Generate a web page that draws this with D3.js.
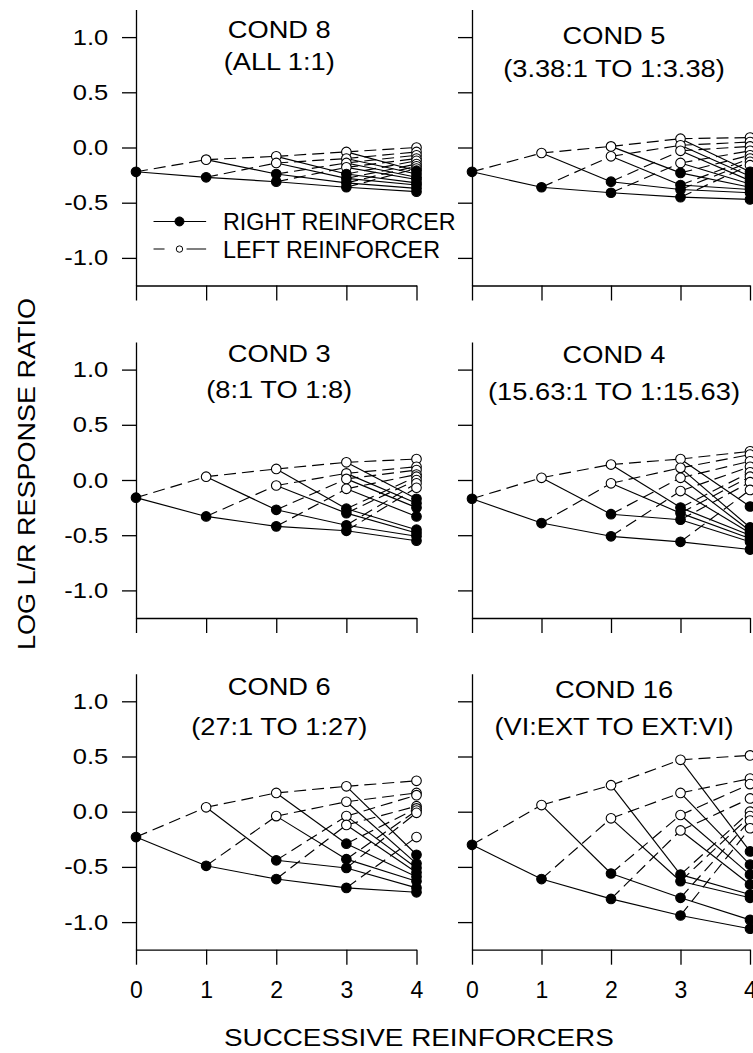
<!DOCTYPE html>
<html>
<head>
<meta charset="utf-8">
<script src="https://cdn.jsdelivr.net/npm/d3@7"></script>
<style>
  body { margin: 0; background: #fff; }
  svg { display: block; }
  text { font-family: Arial, "Liberation Sans", sans-serif; fill: #000; }
</style>
</head>
<body>
<svg id="chart" width="753" height="1053"></svg>
<script>
const steps = [0, 1, 2, 3, 4];
const yTicks = [1.0, 0.5, 0.0, -0.5, -1.0];
const conditions = ['COND 8', 'COND 5', 'COND 3', 'COND 4', 'COND 6', 'COND 16'];
const ratios = ['(ALL 1:1)', '(3.38:1 TO 1:3.38)', '(8:1 TO 1:8)',
  '(15.63:1 TO 1:15.63)', '(27:1 TO 1:27)', '(VI:EXT TO EXT:VI)'];

// log L/R per number of reinforcers, listed top to bottom
// (order = most recent reinforcer first, left before right)
const cond8 = [
  [-0.22],
  [-0.11, -0.27],
  [-0.08, -0.14, -0.24, -0.31],
  [-0.04, -0.10, -0.14, -0.18, -0.24, -0.28, -0.32, -0.36],
  [0.00, -0.04, -0.07, -0.10, -0.12, -0.15, -0.17, -0.19, -0.21, -0.24, -0.27, -0.29, -0.32, -0.34, -0.37, -0.40]
];
const cond5 = [
  [-0.22],
  [-0.05, -0.36],
  [0.01, -0.08, -0.31, -0.41],
  [0.08, 0.02, -0.03, -0.14, -0.23, -0.34, -0.38, -0.45],
  [0.09, 0.05, 0.01, -0.03, -0.07, -0.10, -0.13, -0.16, -0.22, -0.26, -0.30, -0.33, -0.36, -0.38, -0.41, -0.47]
];
const cond3 = [
  [-0.16],
  [0.03, -0.33],
  [0.10, -0.05, -0.27, -0.42],
  [0.16, 0.06, 0.01, -0.08, -0.26, -0.30, -0.41, -0.46],
  [0.19, 0.12, 0.09, 0.05, 0.03, 0.00, -0.03, -0.07, -0.17, -0.21, -0.25, -0.33, -0.45, -0.48, -0.51, -0.55]
];
const cond4 = [
  [-0.17],
  [0.02, -0.39],
  [0.14, -0.03, -0.31, -0.51],
  [0.19, 0.11, 0.02, -0.10, -0.25, -0.30, -0.36, -0.56],
  [0.26, 0.23, 0.17, 0.12, 0.07, 0.03, -0.02, -0.09, -0.24, -0.43, -0.46, -0.48, -0.50, -0.53, -0.56, -0.63]
];
const cond6 = [
  [-0.23],
  [0.04, -0.49],
  [0.17, -0.04, -0.44, -0.61],
  [0.23, 0.09, -0.04, -0.12, -0.29, -0.43, -0.51, -0.69],
  [0.28, 0.17, 0.15, 0.05, 0.03, 0.01, -0.01, -0.23, -0.39, -0.47, -0.51, -0.55, -0.59, -0.63, -0.69, -0.73]
];
const cond16 = [
  [-0.30],
  [0.06, -0.61],
  [0.24, -0.06, -0.56, -0.79],
  [0.47, 0.17, -0.03, -0.17, -0.57, -0.63, -0.78, -0.94],
  [0.51, 0.30, 0.25, 0.12, 0.00, -0.04, -0.08, -0.15, -0.36, -0.48, -0.57, -0.66, -0.75, -0.78, -0.98, -1.06]
];
const panelData = [cond8, cond5, cond3, cond4, cond6, cond16];

const colRange = [[136, 416.5], [472, 750]];
const rowTop = [9.5, 342, 673.7];
const rowHeight = 276;
// title baselines, px above the zero line of each panel
const titleDy = [[-110, -77.5], [-104, -71], [-118, -82], [-117, -80], [-117, -77], [-114, -77]];
const stretch = 1.16;
const font = 'Arial, "Liberation Sans", sans-serif';

const svg = d3.select('#chart');

panelData.forEach((levels, i) => {
  const col = i % 2;
  const row = Math.floor(i / 2);
  const x = d3.scaleLinear().domain([0, 4]).range(colRange[col]);
  const y = d3.scaleLinear().domain([-1.25, 1.25]).range([rowTop[row] + rowHeight, rowTop[row]]);
  const g = svg.append('g');

  const yAxis = g.append('g')
    .attr('transform', `translate(${colRange[col][0]},0)`)
    .call(d3.axisLeft(y).tickValues(yTicks).tickSize(14).tickSizeOuter(0)
      .tickFormat(d => col === 0 ? d.toFixed(1) : ''));
  yAxis.attr('font-family', font).attr('font-size', 22);
  yAxis.selectAll('path, line').attr('stroke', '#000').attr('stroke-width', 1.3);
  yAxis.selectAll('text')
    .attr('x', -27.7 / stretch)
    .attr('transform', `scale(${stretch},1)`);

  const xAxis = g.append('g')
    .attr('transform', `translate(0,${rowTop[row] + rowHeight})`)
    .call(d3.axisBottom(x).tickValues(steps).tickSize(15).tickSizeOuter(0).tickPadding(17)
      .tickFormat(d => row === 2 ? d : ''));
  xAxis.attr('font-family', font).attr('font-size', 23);
  xAxis.selectAll('path, line').attr('stroke', '#000').attr('stroke-width', 1.3);

  // tree of sequences: each node branches to a left (open) and right (filled) reinforcer
  const links = [];
  const nodes = [];
  levels.forEach((vals, d) => {
    vals.forEach((v, r) => {
      const left = d > 0 && (r >> (d - 1)) === 0;
      nodes.push({ step: d, value: v, filled: !left });
      if (d > 0) {
        const p = r % (1 << (d - 1));
        links.push({ s0: d - 1, v0: levels[d - 1][p], s1: d, v1: v, dashed: left });
      }
    });
  });

  g.append('g').selectAll('line')
    .data(links)
    .join('line')
    .attr('x1', d => x(d.s0))
    .attr('y1', d => y(d.v0))
    .attr('x2', d => x(d.s1))
    .attr('y2', d => y(d.v1))
    .attr('stroke', '#000')
    .attr('stroke-width', 1.15)
    .attr('stroke-dasharray', d => d.dashed ? '12,6' : null);

  g.append('g').selectAll('circle')
    .data(nodes)
    .join('circle')
    .attr('cx', d => x(d.step))
    .attr('cy', d => y(d.value))
    .attr('r', 4.8)
    .attr('fill', d => d.filled ? '#000' : '#fff')
    .attr('stroke', '#000')
    .attr('stroke-width', 1.1);

  const cx = (colRange[col][0] + colRange[col][1]) / 2 + 3;
  g.append('text')
    .attr('transform', `translate(${cx},${y(0) + titleDy[i][0]}) scale(${stretch},1)`)
    .attr('text-anchor', 'middle')
    .attr('font-size', 23.5)
    .text(conditions[i]);
  g.append('text')
    .attr('transform', `translate(${cx},${y(0) + titleDy[i][1]}) scale(${stretch},1)`)
    .attr('text-anchor', 'middle')
    .attr('font-size', 23.5)
    .text(ratios[i]);

  if (i === 0) {
    const legend = g.append('g');
    const items = [
      { label: 'RIGHT REINFORCER', v: -0.67, filled: true },
      { label: 'LEFT REINFORCER', v: -0.92, filled: false }
    ];
    items.forEach(it => {
      legend.append('line')
        .attr('x1', x(0.25)).attr('x2', x(1.0))
        .attr('y1', y(it.v)).attr('y2', y(it.v))
        .attr('stroke', '#000').attr('stroke-width', 1.1)
        .attr('stroke-dasharray', it.filled ? null : '11,22,20');
      legend.append('circle')
        .attr('cx', x(0.62)).attr('cy', y(it.v))
        .attr('r', it.filled ? 4.5 : 3.2)
        .attr('fill', it.filled ? '#000' : '#fff')
        .attr('stroke', '#000').attr('stroke-width', 1);
      legend.append('text')
        .attr('x', x(1.24))
        .attr('y', y(it.v) + 8.5)
        .attr('font-size', 23.3)
        .text(it.label);
    });
  }
});

svg.append('text')
  .attr('transform', `translate(35,474) rotate(-90) scale(${stretch},1)`)
  .attr('text-anchor', 'middle')
  .attr('font-size', 23.3)
  .text('LOG L/R RESPONSE RATIO');

svg.append('text')
  .attr('transform', `translate(224,1045.7) scale(${stretch},1)`)
  .attr('font-size', 24)
  .text('SUCCESSIVE REINFORCERS');
</script>
</body>
</html>
